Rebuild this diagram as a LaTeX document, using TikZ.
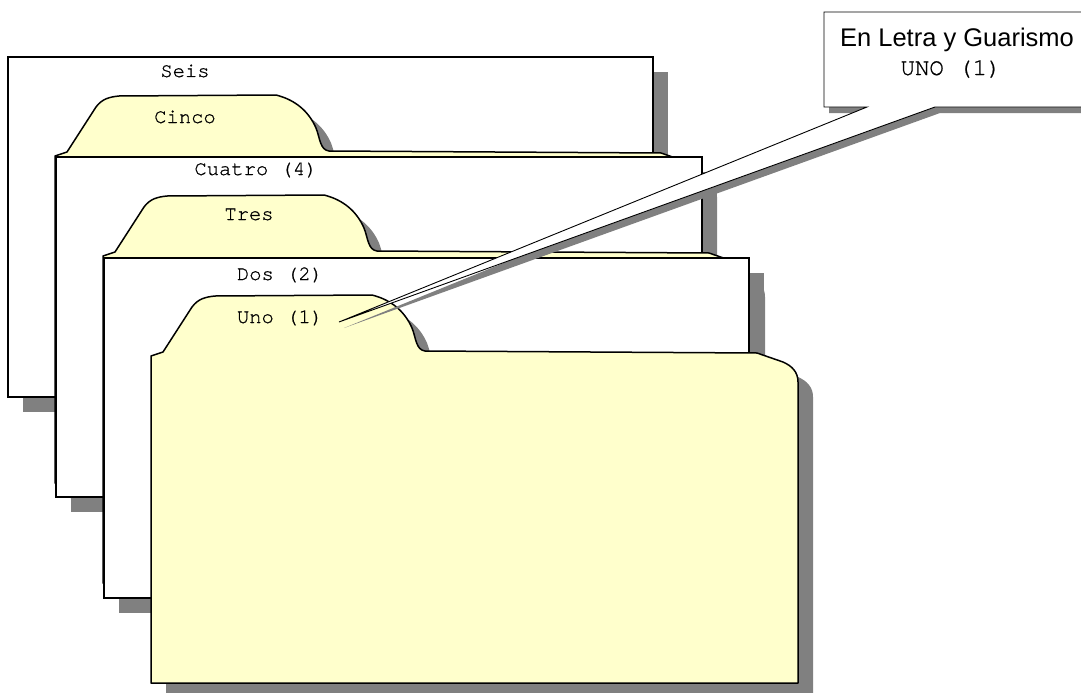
\documentclass[tikz,border=0pt]{standalone}
\usepackage{fontspec}
\newfontfamily\sansf{Liberation Sans}
\newfontfamily\monof{texgyrecursor-regular}[Extension=.otf,FakeBold=0.8]
\definecolor{folderyellow}{HTML}{FFFFCC}
\definecolor{shadowgray}{HTML}{808080}
\newcommand\folderoutline{(151,683) -- (151,356) -- (163,352) -- (192,307) .. controls (198,299) and (205,297) .. (215,296) -- (372,295) .. controls (392,300) and (405,312) .. (412,328) .. controls (416,338) and (416,350) .. (425,351) -- (757,353) -- (783,362) .. controls (792,366) and (798,372) .. (798,382) -- (798,683) -- cycle}
\newcommand\calloutoutline{(824,12) -- (1100,12) -- (1100,107) -- (935,107) -- (339,322) -- (867,107) -- (824,107) -- cycle}
\tikzset{
  shadowfill/.style={fill=shadowgray,draw=none},
  sheetbox/.style={fill=white,draw=black,line width=1.3pt},
  folderbox/.style={fill=folderyellow,draw=black,line width=1.5pt,line join=round},
  calloutbox/.style={fill=white,draw=black,line width=0.9pt},
  monolabel/.style={font=\monof\fontsize{20.5}{24}\selectfont,anchor=base,inner sep=0pt},
}
\begin{document}
\begin{tikzpicture}[x=1pt,y=-1pt]
\clip (0,0) rectangle (1081,693);
\fill[white] (0,0) rectangle (1081,693);
% Seis sheet
\fill[shadowfill] (23,72) rectangle (668,412);
\draw[sheetbox] (8,57) rectangle (653,397);
\node[monolabel] (seis) at (185,77) {Seis};
% Cinco folder
\begin{scope}[shift={(-81,-185)}]
\fill[shadowfill] \folderoutline;
\end{scope}
\begin{scope}[shift={(-96,-200)}]
\draw[folderbox] \folderoutline;
\end{scope}
\node[monolabel] (cinco) at (185,123) {Cinco};
% Cuatro sheet
\fill[shadowfill] (71,172) rectangle (717,512);
\draw[sheetbox] (56,157) rectangle (702,497);
\node[monolabel] (cuatro) at (256,175) {Cuatro (4)};
% Tres folder
\begin{scope}[shift={(-33,-85)}]
\fill[shadowfill] \folderoutline;
\end{scope}
\begin{scope}[shift={(-48,-100)}]
\draw[folderbox] \folderoutline;
\end{scope}
\node[monolabel] (tres) at (249,220) {Tres};
% Dos sheet
\fill[shadowfill] (119,273) rectangle (764,613);
\draw[sheetbox] (104,258) rectangle (749,598);
\node[monolabel] (dos) at (280,280) {Dos (2)};
% Uno folder
\begin{scope}[shift={(15,15)}]
\fill[shadowfill] \folderoutline;
\end{scope}
\draw[folderbox] \folderoutline;
\node[monolabel] (uno) at (280,323) {Uno (1)};
% Callout
\begin{scope}[shift={(5,6)}]
\fill[shadowfill] \calloutoutline;
\end{scope}
\draw[calloutbox] \calloutoutline;
\node[font=\sansf\fontsize{25.5}{30}\selectfont,anchor=base,inner sep=0pt] (title) at (957,47) {En Letra y Guarismo};
\node[font=\monof\fontsize{24}{28}\selectfont,anchor=base,inner sep=0pt] (unoword) at (951,75) {UNO (1)};
\end{tikzpicture}
\end{document}
